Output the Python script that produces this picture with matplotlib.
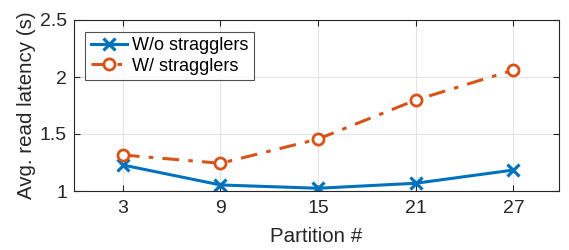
import numpy as np
import matplotlib
matplotlib.use('Agg')
import matplotlib.pyplot as plt

plt.rcParams['font.family'] = ['Liberation Sans', 'DejaVu Sans']

partitions = [3, 9, 15, 21, 27]
wo_stragglers = [1.228, 1.053, 1.024, 1.068, 1.184]
w_stragglers = [1.316, 1.243, 1.456, 1.798, 2.061]

fig = plt.figure(figsize=(5.69, 2.5), dpi=100)
ax = fig.add_axes([74 / 569, 1 - 191 / 250, (559 - 74) / 569, (191 - 20) / 250])

ax.plot(partitions, wo_stragglers, color='#0072BD', lw=2.2, marker='x',
        ms=8.5, mew=2.3, label='W/o stragglers')
ax.plot(partitions, w_stragglers, color='#D95319', lw=2.2, ls='-.', marker='o',
        ms=8, mew=2.0, mfc='white', label='W/ stragglers',
        dashes=[5.5, 3, 1.5, 3])

ax.set_xlim(0, 29.8)
ax.set_ylim(1, 2.5)
ax.set_xticks(partitions)
ax.set_yticks([1, 1.5, 2, 2.5])
ax.set_yticklabels(['1', '1.5', '2', '2.5'])
ax.grid(True, color='#e3e3e3', lw=0.8)
ax.set_axisbelow(True)
for s in ax.spines.values():
    s.set_color('#262626')
    s.set_linewidth(0.8)
ax.tick_params(direction='in', top=True, right=True, labelsize=14,
               colors='#262626', length=4)
ax.tick_params(axis='x', pad=6.5)
ax.tick_params(axis='y', pad=5)
ax.set_xlabel('Partition #', fontsize=14.8, color='#262626', labelpad=7)
ax.set_ylabel('Avg. read latency (s)', fontsize=14.8, color='#262626', labelpad=3)

leg = ax.legend(loc='upper left', bbox_to_anchor=(0.023, 0.932), fontsize=13,
                frameon=True, fancybox=False, borderpad=0.3, handlelength=2.0,
                handletextpad=0.3, labelspacing=0.2, borderaxespad=0)
leg.get_frame().set_edgecolor('#262626')
leg.get_frame().set_linewidth(0.8)

fig.savefig('out.png', dpi=100)
